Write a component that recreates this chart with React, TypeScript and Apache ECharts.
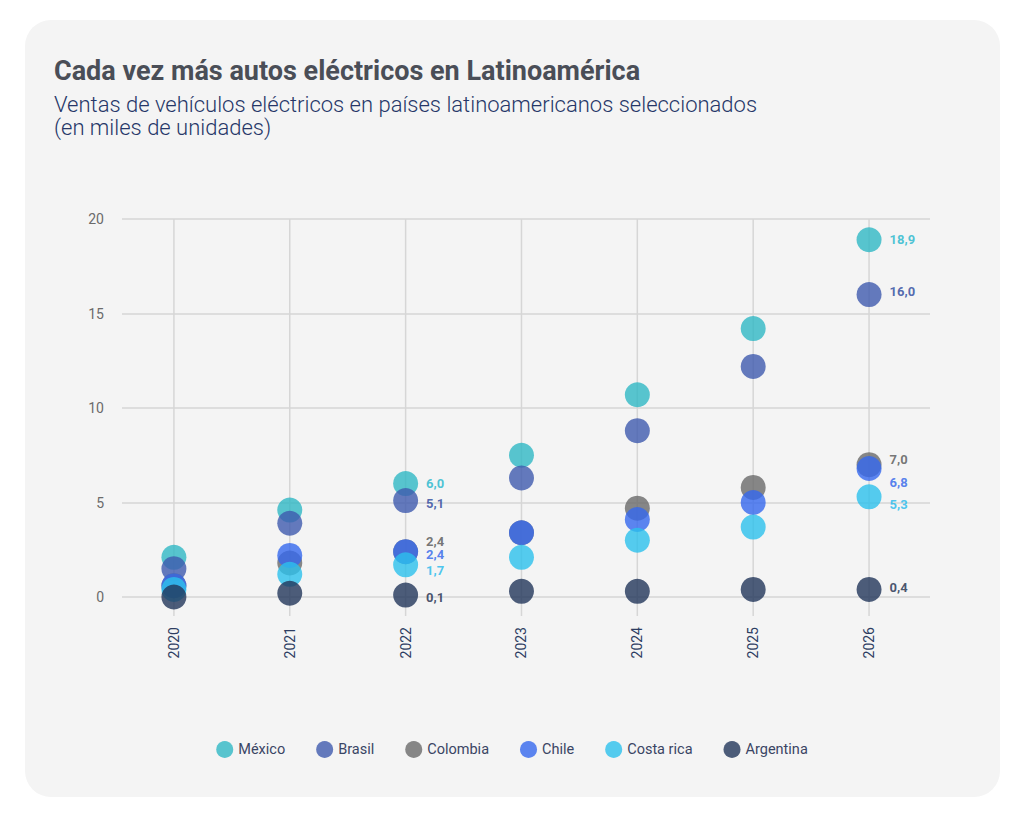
import React, { useEffect, useRef } from "react";
import * as echarts from "echarts";

const years = [2020, 2021, 2022, 2023, 2024, 2025, 2026];
const yTicks = [0, 5, 10, 15, 20];

const seriesNames = ["México", "Brasil", "Colombia", "Chile", "Costa rica", "Argentina"];

const mexico = [2.1, 4.6, 6.0, 7.5, 10.7, 14.2, 18.9];
const brasil = [1.5, 3.9, 5.1, 6.3, 8.8, 12.2, 16.0];
const colombia = [0.6, 1.8, 2.4, 3.4, 4.7, 5.8, 7.0];
const chile = [0.6, 2.2, 2.4, 3.4, 4.1, 5.0, 6.8];
const costaRica = [0.4, 1.2, 1.7, 2.1, 3.0, 3.7, 5.3];
const argentina = [0.0, 0.2, 0.1, 0.3, 0.3, 0.4, 0.4];

const labelledYears = [2022, 2026];

const dotColors = ["#2fb8c4", "#3f5aae", "#6a6a6a", "#3468ee", "#2cc0ec", "#22365a"];
const labelColors = ["#1fb6cc", "#2a469c", "#555555", "#2e63ea", "#22b9ec", "#1b2b4b"];
// vertical label nudges (px) to avoid overlaps, per series, per labelled year
const labelNudge = [
  [0, 0],
  [3, -3],
  [-10, -5],
  [3, 14],
  [6, 8],
  [2, -2],
];

const allValues = [mexico, brasil, colombia, chile, costaRica, argentina];

const fmt = (v: number) => v.toFixed(1).replace(".", ",");

export default function App() {
  const ref = useRef<HTMLDivElement>(null);

  useEffect(() => {
    if (!ref.current) return;
    const chart = echarts.init(ref.current, null, { renderer: "svg" });

    const scatterSeries = seriesNames.map((name, si) => ({
      name,
      type: "scatter",
      symbol: "circle",
      symbolSize: 25,
      z: 3 + si,
      itemStyle: { color: dotColors[si], opacity: 0.8 },
      data: years.map((yr, i) => {
        const li = labelledYears.indexOf(yr);
        const item: any = { value: [yr, allValues[si][i]] };
        if (li >= 0) {
          item.label = {
            show: true,
            position: "right",
            distance: 8,
            offset: [0, labelNudge[si][li]],
            formatter: () => fmt(allValues[si][i]),
            color: labelColors[si],
            fontFamily: "Roboto",
            fontWeight: "bold",
            fontSize: 13,
          };
        }
        return item;
      }),
    }));

    const option: any = {
      animation: false,
      graphic: [
        {
          type: "rect",
          z: -10,
          silent: true,
          shape: { x: 25, y: 20, width: 975, height: 777, r: 26 },
          style: { fill: "#f4f4f4" },
        },
      ],
      title: {
        left: 49,
        top: 52,
        text: "Cada vez más autos eléctricos en Latinoamérica",
        subtext:
          "Ventas de vehículos eléctricos en países latinoamericanos seleccionados\n(en miles de unidades)",
        itemGap: 9,
        textStyle: {
          fontFamily: "Roboto",
          fontWeight: "bold",
          fontSize: 27,
          color: "#4a4e57",
        },
        subtextStyle: {
          fontFamily: "Roboto",
          fontWeight: 300,
          fontSize: 22,
          lineHeight: 23,
          color: "#263768",
        },
      },
      legend: {
        data: seriesNames,
        left: "center",
        top: 736,
        icon: "circle",
        itemWidth: 17,
        itemHeight: 17,
        itemGap: 31,
        textStyle: { fontFamily: "Roboto", fontSize: 14.5, color: "#3a4564" },
      },
      grid: { left: 122, right: 94, top: 219, bottom: 226 },
      xAxis: {
        type: "value",
        min: 2019.552,
        max: 2026.526,
        splitLine: { show: false },
        axisLine: { show: false },
        axisTick: { show: false },
        axisLabel: {
          rotate: 90,
          margin: 30,
          showMinLabel: false,
          showMaxLabel: false,
          fontFamily: "Roboto",
          fontSize: 14,
          color: "#2d3d62",
          formatter: (v: number) => (years.includes(Math.round(v * 1000) / 1000) ? String(v) : ""),
        },
      },
      yAxis: {
        type: "value",
        min: yTicks[0],
        max: yTicks[yTicks.length - 1],
        interval: 5,
        axisLine: { show: false },
        axisTick: { show: false },
        splitLine: { lineStyle: { color: "#d6d6d6", width: 1.5 } },
        axisLabel: {
          margin: 18,
          fontFamily: "Roboto",
          fontSize: 14,
          color: "#6b6b6b",
        },
      },
      series: [
        {
          type: "custom",
          silent: true,
          z: 1,
          data: years.map((y) => [y]),
          encode: { x: 0 },
          renderItem: (params: any, api: any) => {
            const x = api.value(0);
            const top = api.coord([x, yTicks[yTicks.length - 1]]);
            const bottom = api.coord([x, 0]);
            return {
              type: "line",
              shape: { x1: top[0], y1: top[1], x2: bottom[0], y2: bottom[1] + 19 },
              style: { stroke: "#d6d6d6", lineWidth: 1.5 },
            };
          },
        },
        ...scatterSeries,
      ],
    };

    chart.setOption(option);
    return () => chart.dispose();
  }, []);

  return (
    <div
      style={{
        position: "absolute",
        left: 0,
        top: 0,
        width: 1024,
        height: 823,
        background: "#ffffff",
      }}
    >
      <div ref={ref} style={{ width: 1024, height: 823 }} />
    </div>
  );
}
